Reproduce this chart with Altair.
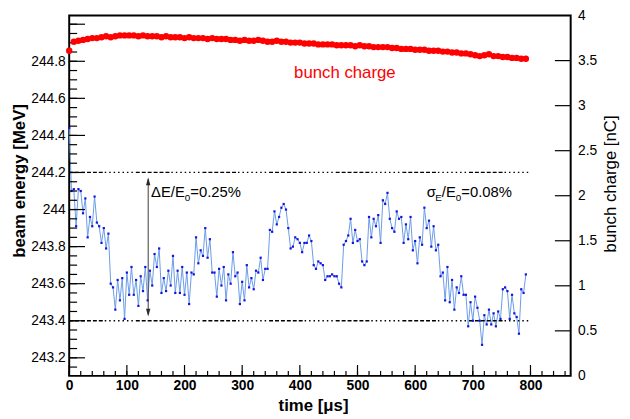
import altair as alt
import pandas as pd

# ---------------- data ----------------
time_us = list(range(0, 796, 4))  # sampling grid, 4 us
energy_mev = [
    244.44, 244.10, 244.11, 243.91, 244.11, 244.10, 243.98, 244.06, 243.85, 243.96,
    243.91, 244.07, 243.93, 243.91, 243.82, 243.90, 243.79, 243.87, 243.60, 243.58,
    243.46, 243.62, 243.51, 243.63, 243.41, 243.66, 243.54, 243.69, 243.54, 243.62,
    243.48, 243.64, 243.56, 243.69, 243.51, 243.67, 243.59, 243.76, 243.69, 243.79,
    243.55, 243.63, 243.56, 243.67, 243.59, 243.75, 243.55, 243.67, 243.55, 243.69,
    243.54, 243.66, 243.49, 243.66, 243.65, 243.85, 243.71, 243.78, 243.75, 243.90,
    243.74, 243.84, 243.66, 243.66, 243.53, 243.68, 243.59, 243.69, 243.51, 243.65,
    243.60, 243.77, 243.64, 243.66, 243.49, 243.61, 243.51, 243.70, 243.58, 243.63,
    243.57, 243.67, 243.66, 243.74, 243.62, 243.68, 243.68, 243.89, 243.88, 243.99,
    243.92, 243.96, 244.01, 244.03, 244.00, 243.90, 243.79, 243.80, 243.85, 243.84,
    243.82, 243.77, 243.82, 243.82, 243.86, 243.83, 243.70, 243.68, 243.72, 243.71,
    243.70, 243.62, 243.64, 243.64, 243.65, 243.64, 243.64, 243.60, 243.58, 243.81,
    243.83, 243.86, 243.95, 243.82, 243.89, 243.83, 243.84, 243.72, 243.70, 243.72,
    243.96, 243.85, 243.95, 243.91, 243.97, 243.82, 244.05, 244.03, 244.09, 243.95,
    243.90, 243.88, 243.99, 243.95, 243.96, 243.82, 243.92, 243.84, 243.96, 243.78,
    243.83, 243.71, 243.85, 243.81, 244.01, 243.90, 243.94, 243.80, 243.91, 243.78,
    243.81, 243.64, 243.66, 243.51, 243.69, 243.50, 243.62, 243.46, 243.58, 243.55,
    243.64, 243.54, 243.54, 243.37, 243.50, 243.40, 243.53, 243.47, 243.40, 243.27,
    243.43, 243.38, 243.46, 243.38, 243.44, 243.37, 243.45, 243.41, 243.57, 243.58,
    243.56, 243.41, 243.54, 243.44, 243.42, 243.33, 243.57, 243.55, 243.65,
]

charge_time_us = list(range(0, 800, 8))
charge_nc = [
    3.61, 3.71, 3.72, 3.73, 3.74, 3.75, 3.75, 3.76, 3.77, 3.76,
    3.77, 3.78, 3.78, 3.78, 3.78, 3.77, 3.78, 3.77, 3.77, 3.77,
    3.76, 3.77, 3.76, 3.76, 3.76, 3.75, 3.76, 3.75, 3.75, 3.75,
    3.74, 3.75, 3.74, 3.74, 3.74, 3.73, 3.73, 3.72, 3.73, 3.72,
    3.72, 3.73, 3.72, 3.71, 3.71, 3.72, 3.71, 3.71, 3.70, 3.70,
    3.70, 3.69, 3.69, 3.69, 3.68, 3.68, 3.68, 3.68, 3.67, 3.67,
    3.67, 3.67, 3.66, 3.67, 3.66, 3.66, 3.65, 3.65, 3.65, 3.65,
    3.64, 3.64, 3.63, 3.63, 3.63, 3.62, 3.62, 3.62, 3.61, 3.61,
    3.61, 3.60, 3.60, 3.59, 3.59, 3.58, 3.58, 3.57, 3.56, 3.55,
    3.56, 3.57, 3.55, 3.55, 3.54, 3.54, 3.53, 3.53, 3.52, 3.52,
]

hline_levels = [244.2, 243.4]
hline_start = [0, 0]
hline_end = [800, 800]

arrow_t = [137]
arrow_top = [244.165]
arrow_bottom = [243.435]
head_top = [244.152]
head_bottom = [243.444]

energy_label_values = [243.2, 243.4, 243.6, 243.8, 244.0, 244.2, 244.4, 244.6, 244.8]
energy_major_ticks = energy_label_values + [245.0]
energy_minor_ticks = [round(243.15 + 0.05 * k, 2) for k in range(38)]
time_major = [0, 100, 200, 300, 400, 500, 600, 700, 800]
time_minor = list(range(0, 870, 20))
charge_labels = [0, 0.5, 1, 1.5, 2, 2.5, 3, 3.5, 4]
charge_ticks = [0.5, 1, 1.5, 2, 2.5, 3, 3.5]

# annotations: text pieces with offsets (subscripts are smaller and lowered)
delta_pieces = ["ΔE/E", "0", "=0.25%"]
delta_dx = [0, 34.2, 39.8]
delta_dy = [0, 4, 0]
delta_size = [15, 10, 15]
delta_pos = (142, 244.07)

sigma_pieces = ["σ", "E", "/E", "0", "=0.08%"]
sigma_dx = [0, 8.6, 15.3, 29.5, 35.1]
sigma_dy = [0, 4, 0, 4, 0]
sigma_size = [15, 10, 15, 10, 15]
sigma_pos = (620, 244.07)

charge_label = "bunch charge"
charge_label_pos = (390, 3.31)

# ---------------- chart ----------------
W, H = 508, 365
FONT = "Liberation Sans"
xs = alt.Scale(domain=[0, 869.7], nice=False, zero=False)
ys_e = alt.Scale(domain=[243.1025, 245.0466], nice=False, zero=False)
ys_q = alt.Scale(domain=[0, 4], nice=False, zero=False)

edf = pd.DataFrame({"t": time_us, "E": energy_mev})
qdf = pd.DataFrame({"t": charge_time_us, "Q": charge_nc})

x_axis = alt.Axis(values=time_major, format="d", ticks=False, tickSize=0, domain=False,
                  grid=False, labelFontSize=14, labelFontWeight="bold", labelPadding=3,
                  labelFlush=False, labelOverlap=False,
                  title="time [μs]", titleFontSize=17, titleFontWeight="bold",
                  titleX=247, titleY=35, titleAlign="center", titleBaseline="alphabetic")
ye_axis = alt.Axis(values=energy_label_values, format="~g", ticks=False, tickSize=0,
                   domain=False, grid=False, labelFontSize=14, labelPadding=4,
                   labelFlush=False, labelOverlap=False,
                   title="beam energy [MeV]", titleFontSize=17, titleFontWeight="bold",
                   titleAngle=270, titleX=-45, titleY=167, titleAlign="center",
                   titleBaseline="alphabetic")
yq_axis = alt.Axis(orient="right", values=charge_labels, format="~g", ticks=False,
                   tickSize=0, domain=False, grid=False, labelFontSize=14, labelPadding=7,
                   labelFlush=False, labelOverlap=False,
                   title="bunch charge [nC]", titleFontSize=17, titleFontWeight="normal",
                   titleAngle=270, titleX=45, titleY=170, titleAlign="center",
                   titleBaseline="alphabetic")


def X(field):
    return alt.X(field, scale=xs, axis=x_axis)


blue_line = alt.Chart(edf).mark_line(color="#6a9ae8", strokeWidth=1).encode(
    x=X("t:Q"),
    y=alt.Y("E:Q", scale=ys_e, axis=ye_axis),
)
blue_pts = alt.Chart(edf).mark_square(size=5, color="#1414e0", opacity=1).encode(
    x=X("t:Q"),
    y=alt.Y("E:Q", scale=ys_e, axis=None),
)

hdf = pd.DataFrame({"level": hline_levels, "t0": hline_start, "t1": hline_end})
hlines = alt.Chart(hdf).mark_rule(
    color="black", strokeWidth=1.3,
    strokeDash=[4, 2, 4, 2, 4, 2, 4, 2, 4, 2, 4, 2,
                1.5, 3, 1.5, 3, 1.5, 3, 1.5, 3, 1.5, 3, 1.5, 3, 1.5, 3],
).encode(
    x=X("t0:Q"),
    x2="t1:Q",
    y=alt.Y("level:Q", scale=ys_e, axis=None),
)

adf = pd.DataFrame({"t": arrow_t, "a": arrow_top, "b": arrow_bottom,
                    "ht": head_top, "hb": head_bottom})
arrow_line = alt.Chart(adf).mark_rule(color="#3a3a3a", strokeWidth=1).encode(
    x=X("t:Q"),
    y=alt.Y("a:Q", scale=ys_e, axis=None),
    y2="b:Q",
)
head_up = alt.Chart(adf).mark_point(
    shape="M0,-1L0.55,1L-0.55,1Z", size=64, filled=True, color="#2a2a2a", opacity=1
).encode(x=X("t:Q"), y=alt.Y("ht:Q", scale=ys_e, axis=None))
head_down = alt.Chart(adf).mark_point(
    shape="M0,1L0.55,-1L-0.55,-1Z", size=64, filled=True, color="#2a2a2a", opacity=1
).encode(x=X("t:Q"), y=alt.Y("hb:Q", scale=ys_e, axis=None))


def text_pieces(pieces, dxs, dys, sizes, pos):
    out = []
    for s, dx, dy, fs in zip(pieces, dxs, dys, sizes):
        d = pd.DataFrame({"t": [pos[0]], "v": [pos[1]], "s": [s]})
        out.append(
            alt.Chart(d).mark_text(align="left", baseline="alphabetic", dx=dx, dy=dy,
                                   fontSize=fs, font=FONT, color="black").encode(
                x=X("t:Q"),
                y=alt.Y("v:Q", scale=ys_e, axis=None),
                text="s:N",
            )
        )
    return out


delta_txt = text_pieces(delta_pieces, delta_dx, delta_dy, delta_size, delta_pos)
sigma_txt = text_pieces(sigma_pieces, sigma_dx, sigma_dy, sigma_size, sigma_pos)

left_minor = alt.Chart(pd.DataFrame({"v": energy_minor_ticks})).mark_rule(
    color="black", strokeWidth=1.2).encode(
    y=alt.Y("v:Q", scale=ys_e, axis=None), x=alt.value(0), x2=alt.value(8))
left_major = alt.Chart(pd.DataFrame({"v": energy_major_ticks})).mark_rule(
    color="black", strokeWidth=1.2).encode(
    y=alt.Y("v:Q", scale=ys_e, axis=None), x=alt.value(0), x2=alt.value(16))
bottom_minor = alt.Chart(pd.DataFrame({"v": time_minor})).mark_rule(
    color="black", strokeWidth=1.2).encode(
    x=X("v:Q"), y=alt.value(H), y2=alt.value(H - 5))
bottom_major = alt.Chart(pd.DataFrame({"v": time_major})).mark_rule(
    color="black", strokeWidth=1.2).encode(
    x=X("v:Q"), y=alt.value(H), y2=alt.value(H - 11))

red_pts = alt.Chart(qdf).mark_circle(size=42, color="#ff0000", opacity=1).encode(
    x=X("t:Q"),
    y=alt.Y("Q:Q", scale=ys_q, axis=yq_axis),
)
red_txt = alt.Chart(pd.DataFrame({"t": [charge_label_pos[0]], "v": [charge_label_pos[1]],
                                  "s": [charge_label]})).mark_text(
    align="left", baseline="alphabetic", fontSize=17, font=FONT, color="#ff0000").encode(
    x=X("t:Q"),
    y=alt.Y("v:Q", scale=ys_q, axis=None),
    text="s:N",
)
right_ticks = alt.Chart(pd.DataFrame({"v": charge_ticks})).mark_rule(
    color="black", strokeWidth=1.2).encode(
    y=alt.Y("v:Q", scale=ys_q, axis=None), x=alt.value(W - 16), x2=alt.value(W))

chart = alt.layer(
    blue_line, hlines, blue_pts, arrow_line, head_up, head_down,
    *delta_txt, *sigma_txt, left_minor, left_major, bottom_minor, bottom_major,
    red_pts, red_txt, right_ticks,
).resolve_scale(y="independent").properties(
    width=W, height=H,
    padding={"left": 62, "top": 5, "right": 52, "bottom": 41},
    autosize=alt.AutoSizeParams(type="none"),
).configure_view(stroke="black", strokeWidth=2).configure_axis(
    labelFont=FONT, titleFont=FONT, labelColor="black", titleColor="black"
)

chart.save("out.html", embed_options={"renderer": "svg", "actions": False})
